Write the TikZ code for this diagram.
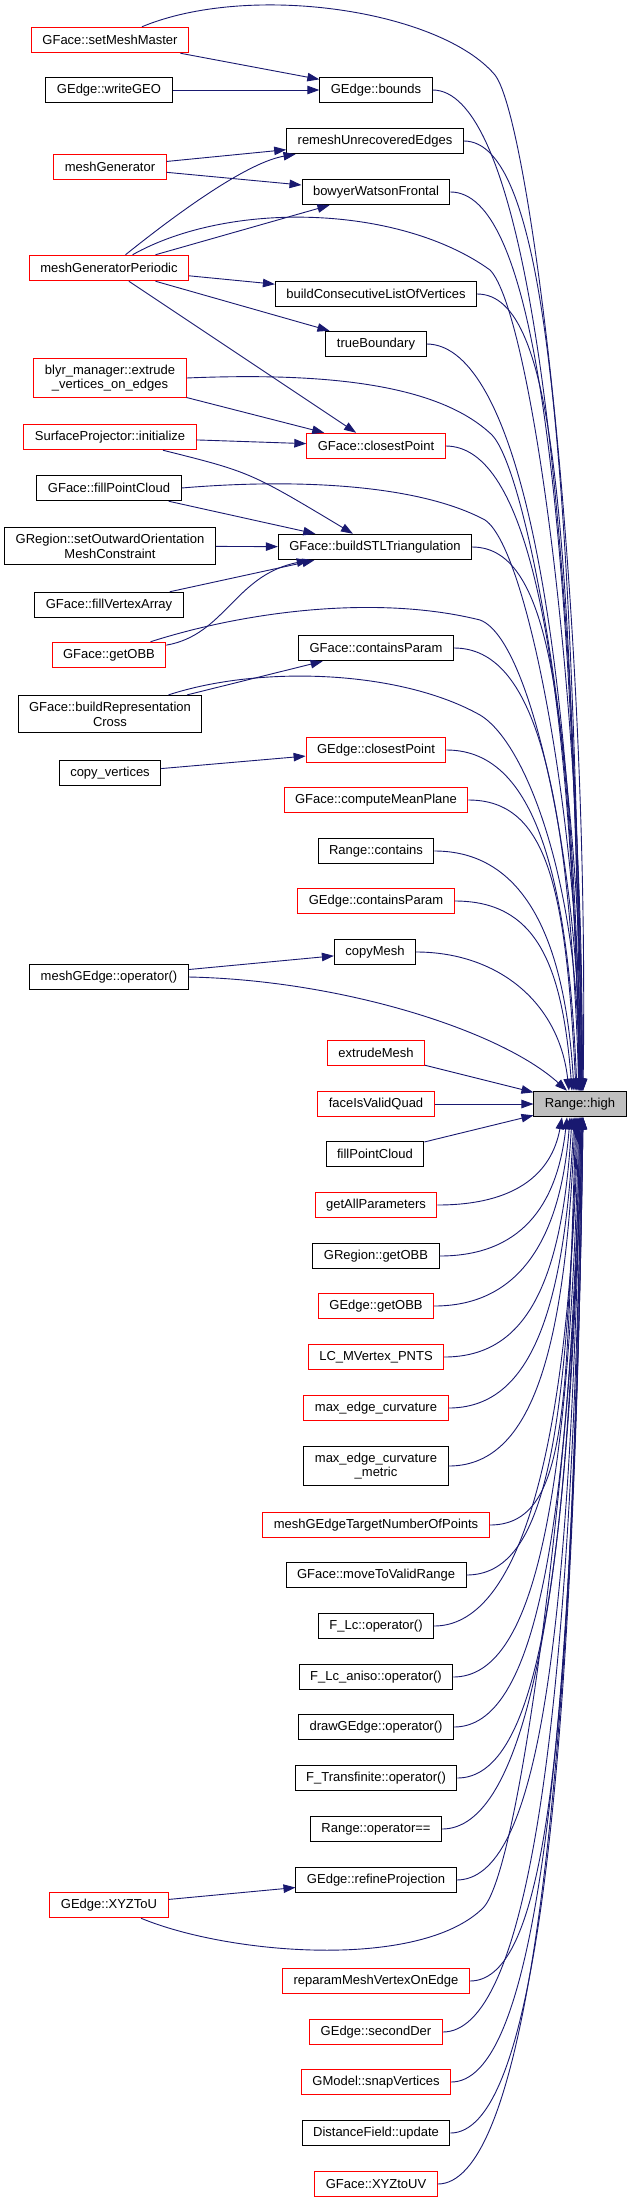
\documentclass[tikz,border=0pt]{standalone}
\usepackage{fontspec}
\setmainfont{Liberation Sans}
\usetikzlibrary{arrows.meta}
\definecolor{callblue}{HTML}{191970}
\definecolor{highgrey}{HTML}{BFBFBF}
\begin{document}
\begin{tikzpicture}[x=1pt,y=-1pt,
  func/.style={draw=black,line width=1pt,inner xsep=11pt,inner ysep=6.5pt,
    minimum height=25.5pt,align=center,font=\fontsize{13}{14.7}\selectfont},
  funcred/.style={func,draw=red},
  focus/.style={func,fill=highgrey},
  call/.style={draw=callblue,line width=0.9pt,-{Triangle[length=12pt,width=8.5pt]}}]
\fill[white] (0,0) rectangle (631,2203);
\useasboundingbox (0,0) rectangle (631,2203);

% callers, left column
\node[funcred] (smm) at (110,40) {GFace::setMeshMaster};
\node[func] (wgeo) at (109,90) {GEdge::writeGEO};
\node[funcred] (mgen) at (110,167) {meshGenerator};
\node[funcred] (mgp) at (109,268) {meshGeneratorPeriodic};
\node[funcred] (blyr) at (110,378) {blyr\_manager::extrude\\\_vertices\_on\_edges};
\node[funcred] (sproj) at (110,437) {SurfaceProjector::initialize};
\node[func] (fpc) at (109,488) {GFace::fillPointCloud};
\node[func] (gros) at (110,546) {GRegion::setOutwardOrientation\\MeshConstraint};
\node[func] (fva) at (109,605) {GFace::fillVertexArray};
\node[funcred] (fobb) at (109,655) {GFace::getOBB};
\node[func] (brc) at (110,714) {GFace::buildRepresentation\\Cross};
\node[func] (cpv) at (110,773) {copy\_vertices};
\node[func] (mgeop) at (109,977) {meshGEdge::operator()};
\node[funcred] (xyzu) at (109,1905) {GEdge::XYZToU};

% callers, middle column
\node[func] (bounds) at (376,90) {GEdge::bounds};
\node[func] (remesh) at (375,141) {remeshUnrecoveredEdges};
\node[func] (bwf) at (376,192) {bowyerWatsonFrontal};
\node[func] (bclv) at (376,294) {buildConsecutiveListOfVertices};
\node[func] (trueb) at (376,344) {trueBoundary};
\node[funcred] (fcp) at (376,446) {GFace::closestPoint};
\node[func] (stl) at (375,547) {GFace::buildSTLTriangulation};
\node[func] (fcpar) at (376,648) {GFace::containsParam};
\node[funcred] (ecp) at (376,750) {GEdge::closestPoint};
\node[funcred] (cmp) at (376,800) {GFace::computeMeanPlane};
\node[func] (rcont) at (376,851) {Range::contains};
\node[funcred] (ecpar) at (376,901) {GEdge::containsParam};
\node[func] (cmesh) at (375,952) {copyMesh};
\node[funcred] (extr) at (376,1053) {extrudeMesh};
\node[funcred] (fivq) at (376,1104) {faceIsValidQuad};
\node[func] (fillpc) at (375,1154) {fillPointCloud};
\node[funcred] (gap) at (376,1205) {getAllParameters};
\node[func] (robb) at (376,1256) {GRegion::getOBB};
\node[funcred] (eobb) at (376,1306) {GEdge::getOBB};
\node[funcred] (lcm) at (376,1357) {LC\_MVertex\_PNTS};
\node[funcred] (mec) at (376,1408) {max\_edge\_curvature};
\node[func] (mecm) at (376,1466) {max\_edge\_curvature\\\_metric};
\node[funcred] (tnp) at (376,1525) {meshGEdgeTargetNumberOfPoints};
\node[func] (mvr) at (376,1575) {GFace::moveToValidRange};
\node[func] (flc) at (376,1626) {F\_Lc::operator()};
\node[func] (flca) at (376,1677) {F\_Lc\_aniso::operator()};
\node[func] (dge) at (376,1727) {drawGEdge::operator()};
\node[func] (ftr) at (376,1778) {F\_Transfinite::operator()};
\node[func] (req) at (376,1829) {Range::operator==};
\node[func] (erp) at (376,1880) {GEdge::refineProjection};
\node[funcred] (rmv) at (376,1981) {reparamMeshVertexOnEdge};
\node[funcred] (esd) at (376,2032) {GEdge::secondDer};
\node[funcred] (snap) at (376,2082) {GModel::snapVertices};
\node[func] (dfu) at (376,2133) {DistanceField::update};
\node[funcred] (xyuv) at (376,2184) {GFace::XYZtoUV};

% callee
\node[focus] (high) at (580,1104) {Range::high};

% short calls
\draw[call] (smm) -- (bounds);
\draw[call] (wgeo) -- (bounds);
\draw[call] (mgen) -- (remesh);
\draw[call] (mgen) -- (bwf);
\draw[call] (mgp) .. controls (200,195) and (255,161) .. (remesh);
\draw[call] (mgp) -- (bwf);
\draw[call] (mgp) -- (bclv);
\draw[call] (mgp) -- (trueb);
\draw[call] (mgp) -- (fcp);
\draw[call] (blyr) -- (fcp);
\draw[call] (sproj) -- (fcp);
\draw[call] (sproj) .. controls (250,472) .. (stl);
\draw[call] (fpc) -- (stl);
\draw[call] (gros) -- (stl);
\draw[call] (fva) -- (stl);
\draw[call] (fobb) .. controls (225,635) and (235,575) .. (stl);
\draw[call] (brc) -- (fcpar);
\draw[call] (cpv) -- (ecp);
\draw[call] (mgeop) -- (cmesh);
\draw[call] (xyzu) -- (erp);
\draw[call] (extr) -- (high);
\draw[call] (fivq) -- (high);
\draw[call] (fillpc) -- (high);

% long calls from the left column
\draw[call] (smm) .. controls (250,-18) and (440,10) .. (495,75)
  .. controls (530,120) and (590,600) .. ([xshift=3pt]high.north);
\draw[call] (mgp) .. controls (230,200) and (400,205) .. (490,270)
  .. controls (530,310) and (585,700) .. ([xshift=2pt]high.north);
\draw[call] (blyr.east) .. controls (330,372) and (440,385) .. (492,435)
  .. controls (530,475) and (585,800) .. ([xshift=1pt]high.north);
\draw[call] (fpc.east) .. controls (300,478) and (420,485) .. (485,520)
  .. controls (530,550) and (583,850) .. (high.north);
\draw[call] (fobb) .. controls (250,610) and (380,595) .. (480,620)
  .. controls (535,640) and (583,900) .. ([xshift=-1pt]high.north);
\draw[call] (brc) .. controls (260,665) and (400,670) .. (480,715)
  .. controls (530,745) and (582,900) .. ([xshift=-2pt]high.north);
\draw[call] (mgeop.east) .. controls (340,980) and (500,1030) .. ([xshift=-13pt]high.north);
\draw[call] (xyzu) .. controls (230,1955) and (420,1970) .. (483,1908)
  .. controls (523,1868) and (578,1400) .. ([xshift=2pt]high.south);

% fan into Range::high
\foreach \n/\l/\s in {bounds/700/3,remesh/665/2,bwf/630/2,bclv/560/1,trueb/520/1,
    fcp/450/0,stl/380/0,fcpar/310/-1,ecp/240/-3,cmp/200/-4,rcont/170/-6,ecpar/130/-8,cmesh/90/-11}
  \draw[call] (\n.east) .. controls +(80,0) and +(-10,-\l) .. ([xshift=\s*1pt]high.north);
\foreach \n/\l/\s in {gap/55/-18,robb/90/-13,eobb/130/-10,lcm/170/-8,mec/200/-6,mecm/245/-5,
    tnp/285/-4,mvr/320/-3,flc/355/-2,flca/390/-1,dge/425/0,ftr/460/0,req/500/1,erp/535/1,
    rmv/605/2,esd/640/2,snap/675/3,dfu/710/3,xyuv/745/3}
  \draw[call] (\n.east) .. controls +(80,0) and +(-10,\l) .. ([xshift=\s*1pt]high.south);
\end{tikzpicture}
\end{document}
